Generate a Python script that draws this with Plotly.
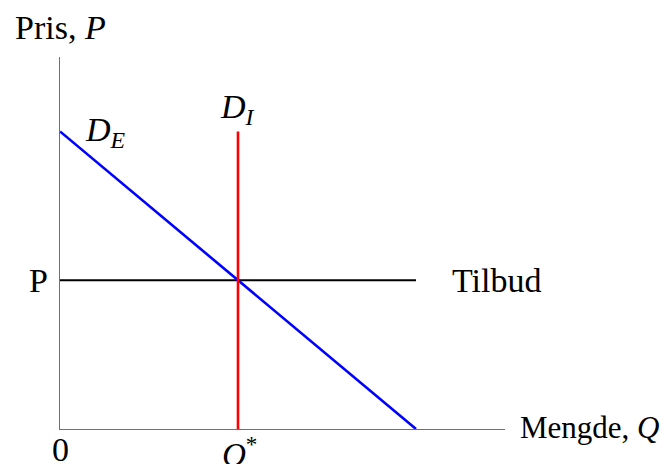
import plotly.graph_objects as go

# Data
demand_E_q = [0, 10]
demand_E_p = [10, 0]
demand_I_q = [5, 5]
demand_I_p = [0, 10]
supply_q = [0, 10]
supply_p = [5, 5]

FONT = "Liberation Serif"
FS = 34

fig = go.Figure()
fig.add_trace(go.Scatter(x=supply_q, y=supply_p, mode="lines",
                         line=dict(color="black", width=2), hoverinfo="skip"))
fig.add_trace(go.Scatter(x=demand_E_q, y=demand_E_p, mode="lines",
                         line=dict(color="#0000ff", width=2.6), hoverinfo="skip"))
fig.add_trace(go.Scatter(x=demand_I_q, y=demand_I_p, mode="lines",
                         line=dict(color="#ff0000", width=2.6), hoverinfo="skip"))

def ann(text, x, y, xanchor="center", yanchor="middle", size=FS):
    fig.add_annotation(text=text, x=x, y=y, xref="paper", yref="paper", showarrow=False,
                       xanchor=xanchor, yanchor=yanchor,
                       font=dict(family=FONT, size=size, color="black"))

ann("Pris, <i>P</i>", 0.0, 1.078)
ann("Mengde, <i>Q</i>", 1.029, 0.005, xanchor="left", size=31)
ann("Tilbud", 0.876, 0.4005, xanchor="left")
ann("P", -0.049, 0.4005)
ann("0", 0.0, -0.055)
ann("<i>Q</i><sup>*</sup>", 0.36, -0.062, xanchor="left", size=33)
ann("<i>D</i><sub><i>E</i></sub>", 0.052, 0.798, xanchor="left")
ann("<i>D</i><sub><i>I</i></sub>", 0.356, 0.861, xanchor="left")

fig.update_layout(
    width=660, height=456,
    margin=dict(l=52, r=163, t=49, b=35),
    paper_bgcolor="white", plot_bgcolor="white",
    showlegend=False,
    xaxis=dict(range=[0, 12.5], showgrid=False, zeroline=False, showticklabels=False,
               ticks="", showline=True, linecolor="#707070", linewidth=1.2),
    yaxis=dict(range=[0, 12.5], showgrid=False, zeroline=False, showticklabels=False,
               ticks="", showline=True, linecolor="#707070", linewidth=1.2),
)
fig.write_html("out.html")
